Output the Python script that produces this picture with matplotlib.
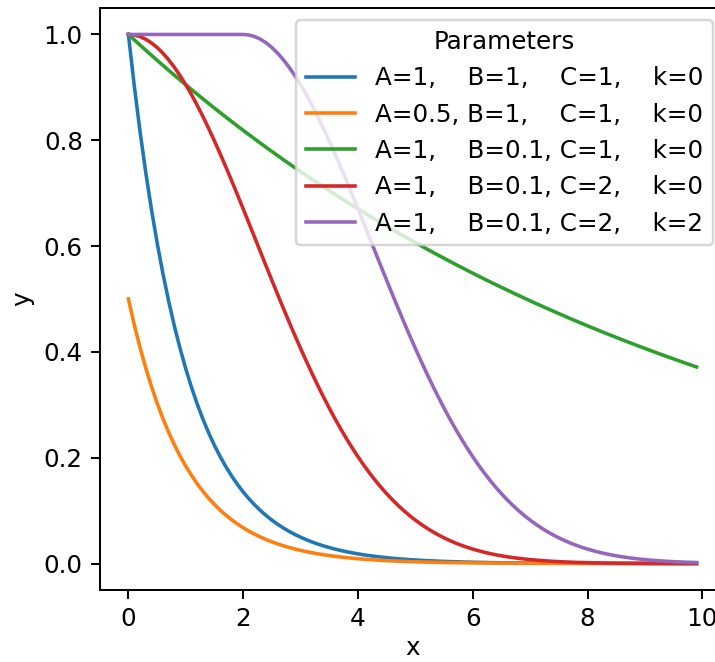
import numpy as np
import matplotlib
matplotlib.use("Agg")
import matplotlib.pyplot as plt

# Parameters shown in the legend
A_vals = [1, 0.5, 1, 1, 1]
B_vals = [1, 1, 0.1, 0.1, 0.1]
C_vals = [1, 1, 1, 2, 2]
k_vals = [0, 0, 0, 0, 2]
labels = [
    "A=1,    B=1,    C=1,    k=0",
    "A=0.5, B=1,    C=1,    k=0",
    "A=1,    B=0.1, C=1,    k=0",
    "A=1,    B=0.1, C=2,    k=0",
    "A=1,    B=0.1, C=2,    k=2",
]
x = np.arange(0, 10, 0.1)

DPI = 177
W, H = 715, 662
fig = plt.figure(figsize=(W / DPI, H / DPI), dpi=DPI)
ax = fig.add_axes([100 / W, 72 / H, 625 / W, 582 / H])

for A, B, C, k, lab in zip(A_vals, B_vals, C_vals, k_vals, labels):
    y = A * np.exp(-B * np.maximum(x - k, 0) ** C)
    ax.plot(x, y, label=lab, lw=1.45)

ax.set_xlabel("x", labelpad=2)
ax.set_ylabel("y")
ax.set_xticks([0, 2, 4, 6, 8, 10])
ax.legend(title="Parameters", loc="upper right")

fig.savefig("out.png", dpi=DPI)
